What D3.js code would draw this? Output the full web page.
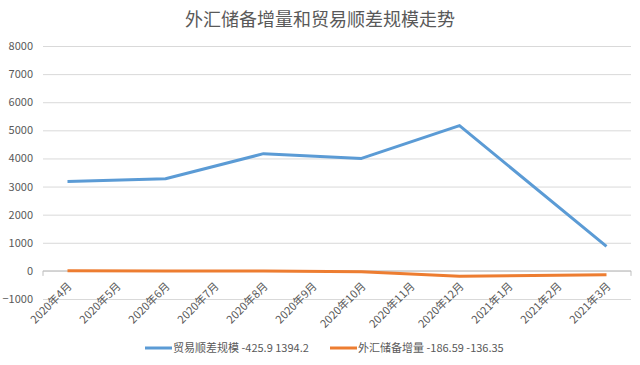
<!DOCTYPE html>
<html>
<head>
<meta charset="utf-8">
<script src="https://cdn.jsdelivr.net/npm/d3@7"></script>
<style>
  body { margin: 0; background: #fff; }
  text { font-family: "Noto Sans CJK SC", "Noto Sans", sans-serif; fill: #595959; }
</style>
</head>
<body>
<script>
const width = 640;
const height = 365;

const months = ["2020年4月", "2020年5月", "2020年6月", "2020年7月", "2020年8月", "2020年9月",
  "2020年10月", "2020年11月", "2020年12月", "2021年1月", "2021年2月", "2021年3月"];
// null = no value that month, the line just runs across
const tradeSurplus = [3180, null, 3280, null, 4170, null, 4000, null, 5170, null, null, 870];
const reserveChange = [5, null, 0, null, 0, null, -30, null, -186.59, null, null, -136.35];
const yTicks = [-1000, 0, 1000, 2000, 3000, 4000, 5000, 6000, 7000, 8000];

const series = [
  { name: "贸易顺差规模 -425.9 1394.2", values: tradeSurplus, color: "#5B9BD5" },
  { name: "外汇储备增量 -186.59 -136.35", values: reserveChange, color: "#ED7D31" }
];

const margin = { top: 46, right: 9, bottom: 66, left: 43 };

const x = d3.scaleBand()
  .domain(months)
  .range([margin.left, width - margin.right]);

const y = d3.scaleLinear()
  .domain([-1000, 8000])
  .range([height - margin.bottom, margin.top]);

const svg = d3.select("body")
  .append("svg")
  .attr("width", width)
  .attr("height", height);

svg.append("text")
  .attr("x", width / 2)
  .attr("y", 26)
  .attr("text-anchor", "middle")
  .attr("font-size", 18)
  .text("外汇储备增量和贸易顺差规模走势");

// gridlines + y labels
const yAxis = svg.append("g")
  .attr("transform", `translate(${margin.left},0)`)
  .call(d3.axisLeft(y).tickValues(yTicks).tickSize(-(width - margin.left - margin.right)).tickPadding(10).tickFormat(d3.format("d")));
yAxis.select(".domain").remove();
yAxis.selectAll(".tick line").attr("stroke", "#d9d9d9");
yAxis.selectAll(".tick text").attr("font-size", 11).attr("fill", "#595959");

// category axis at zero
svg.append("line")
  .attr("x1", margin.left).attr("x2", width - margin.right)
  .attr("y1", y(0)).attr("y2", y(0))
  .attr("stroke", "#bfbfbf");
svg.selectAll(".endtick")
  .data([margin.left, width - margin.right])
  .join("line")
  .attr("x1", d => d).attr("x2", d => d)
  .attr("y1", y(0)).attr("y2", y(0) + 5)
  .attr("stroke", "#bfbfbf");

svg.append("g")
  .selectAll("text")
  .data(months)
  .join("text")
  .attr("font-size", 11)
  .attr("text-anchor", "end")
  .attr("transform", d => `translate(${x(d) + x.bandwidth() / 2 + 5},${y(-1000) - 12}) rotate(-45)`)
  .text(d => d);

const line = d3.line()
  .x(d => x(d.month) + x.bandwidth() / 2)
  .y(d => y(d.value));

svg.append("g")
  .selectAll("path")
  .data(series)
  .join("path")
  .attr("fill", "none")
  .attr("stroke", d => d.color)
  .attr("stroke-width", 3)
  .attr("stroke-linejoin", "round")
  .attr("d", d => line(d.values.map((v, i) => ({ month: months[i], value: v })).filter(p => p.value !== null)));

// legend
const legend = svg.append("g");
const legendX = [145, 330];
series.forEach((s, i) => {
  const g = legend.append("g").attr("transform", `translate(${legendX[i]},348)`);
  g.append("line").attr("x1", 0).attr("x2", 27).attr("stroke", s.color).attr("stroke-width", 3);
  g.append("text").attr("x", 28).attr("dy", "0.35em").attr("font-size", 11).text(s.name);
});
</script>
</body>
</html>
